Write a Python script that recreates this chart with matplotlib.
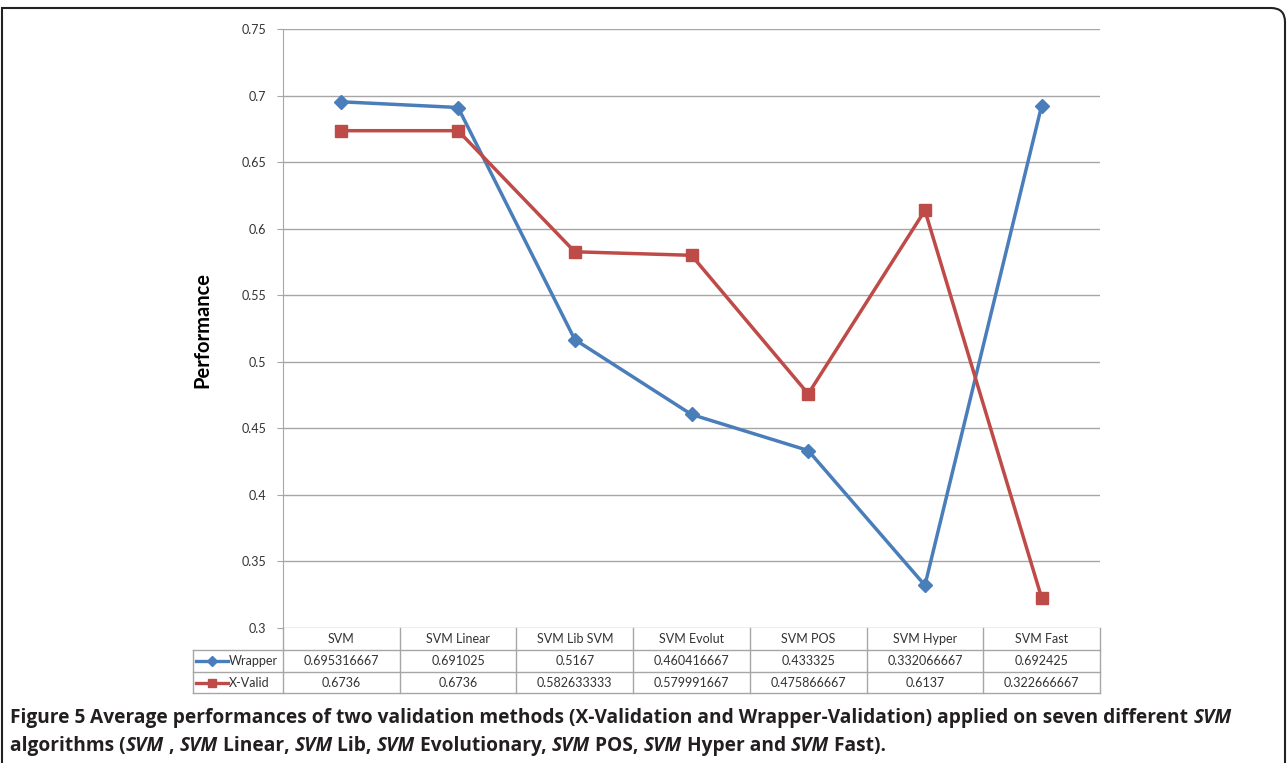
import numpy as np
import matplotlib
matplotlib.use('Agg')
import matplotlib.pyplot as plt
from matplotlib.lines import Line2D
from matplotlib.path import Path
from matplotlib.patches import PathPatch

# data from the averaged validation runs
algorithms = ['SVM', 'SVM Linear', 'SVM Lib SVM', 'SVM Evolut', 'SVM POS', 'SVM Hyper', 'SVM Fast']
wrapper = [0.695316667, 0.691025, 0.5167, 0.460416667, 0.433325, 0.332066667, 0.692425]
xvalid = [0.6736, 0.6736, 0.582633333, 0.579991667, 0.475866667, 0.6137, 0.322666667]
wrapper_labels = ['0.695316667', '0.691025', '0.5167', '0.460416667', '0.433325', '0.332066667', '0.692425']
xvalid_labels = ['0.6736', '0.6736', '0.582633333', '0.579991667', '0.475866667', '0.6137', '0.322666667']
yticks = [0.3, 0.35, 0.4, 0.45, 0.5, 0.55, 0.6, 0.65, 0.7, 0.75]

W, H = 1287, 763
BLUE = '#4a7ebb'
RED = '#be4b48'
GRID = '#a6a6a6'
TXT = '#333333'
chart_font = ['Lato', 'DejaVu Sans']


def fx(px):
    return px / W


def fy(py):
    return 1 - py / H


fig = plt.figure(figsize=(W / 100, H / 100), dpi=100)
fig.patch.set_facecolor('white')

# plot area
L, R, T, B = 283, 1100, 29, 628
ax = fig.add_axes([fx(L), fy(B), fx(R - L), (B - T) / H])
x = np.arange(len(algorithms))
ax.plot(x, wrapper, color=BLUE, lw=2.5, marker='D', ms=7.5, zorder=3)
ax.plot(x, xvalid, color=RED, lw=2.5, marker='s', ms=8, zorder=3)
ax.set_xlim(-0.5, len(algorithms) - 0.5)
ax.set_ylim(0.3, 0.75)
ax.set_yticks(yticks)
ax.set_yticklabels([f'{v:g}' for v in yticks], fontsize=9, color=TXT, family=chart_font)
ax.set_xticks([])
ax.grid(axis='y', color=GRID, lw=1)
ax.set_axisbelow(True)
for side in ['top', 'right', 'bottom']:
    ax.spines[side].set_visible(False)
ax.spines['left'].set_color(GRID)
ax.tick_params(axis='y', length=4, color=GRID, pad=8)
fig.text(fx(202), fy(330), 'Performance', rotation=90, ha='center', va='center',
         fontsize=14.5, fontweight='bold', color='black', family=chart_font)

# data table under the plot
col_w = (R - L) / len(algorithms)
rows = [628, 650, 672, 693]
leg_l = 193
tl = dict(color=GRID, lw=1)
for yy in rows[1:]:
    fig.add_artist(Line2D([fx(leg_l), fx(R)], [fy(yy)] * 2, **tl))
fig.add_artist(Line2D([fx(leg_l)] * 2, [fy(rows[1]), fy(rows[3])], **tl))
for i in range(len(algorithms) + 1):
    xx = L + i * col_w
    fig.add_artist(Line2D([fx(xx)] * 2, [fy(rows[0]), fy(rows[3])], **tl))

for i, name in enumerate(algorithms):
    cx = L + (i + 0.5) * col_w
    fig.text(fx(cx), fy(639), name, ha='center', va='center', fontsize=9, color=TXT, family=chart_font)
    fig.text(fx(cx), fy(661), wrapper_labels[i], ha='center', va='center', fontsize=9, color=TXT, family=chart_font)
    fig.text(fx(cx), fy(683), xvalid_labels[i], ha='center', va='center', fontsize=9, color=TXT, family=chart_font)

for yy, col, mk, ms, name in [(661, BLUE, 'D', 5, 'Wrapper'), (683, RED, 's', 6, 'X-Valid')]:
    fig.add_artist(Line2D([fx(196), fx(228)], [fy(yy)] * 2, color=col, lw=2.4, zorder=3))
    fig.add_artist(Line2D([fx(212)], [fy(yy)], color=col, marker=mk, ms=ms, lw=0))
    fig.text(fx(229), fy(yy), name, ha='left', va='center', fontsize=9, color=TXT, family=chart_font)

# frame around the figure panel
r = 14
verts = [(fx(2), 0), (fx(2), fy(8)), (fx(1285 - r), fy(8)),
         (fx(1285), fy(8)), (fx(1285), fy(8 + r)), (fx(1285), 0)]
codes = [Path.MOVETO, Path.LINETO, Path.LINETO, Path.CURVE3, Path.CURVE3, Path.LINETO]
fig.add_artist(PathPatch(Path(verts, codes), fill=False, ec='#222222', lw=1.5,
                         transform=fig.transFigure))

# caption, with italic SVM runs
cap_font = ['Open Sans', 'DejaVu Sans']
line1 = [('Figure 5 ', 'normal'), ('Average performances of two validation methods (X-Validation and Wrapper-Validation) applied on seven different ', 'normal'),
         ('SVM', 'italic')]
line2 = [('algorithms (', 'normal'), ('SVM', 'italic'), (' , ', 'normal'), ('SVM', 'italic'), (' Linear, ', 'normal'),
         ('SVM', 'italic'), (' Lib, ', 'normal'), ('SVM', 'italic'), (' Evolutionary, ', 'normal'),
         ('SVM', 'italic'), (' POS, ', 'normal'), ('SVM', 'italic'), (' Hyper and ', 'normal'),
         ('SVM', 'italic'), (' Fast).', 'normal')]
renderer = fig.canvas.get_renderer()
for yy, parts in [(718, line1), (746, line2)]:
    xpos = 10
    for s, style in parts:
        t = fig.text(fx(xpos), fy(yy), s, ha='left', va='center', fontsize=13.8,
                     fontweight='bold', fontstyle=style, color='#231f20', family=cap_font)
        bb = t.get_window_extent(renderer)
        xpos += bb.width

fig.savefig('out.png', dpi=100)
